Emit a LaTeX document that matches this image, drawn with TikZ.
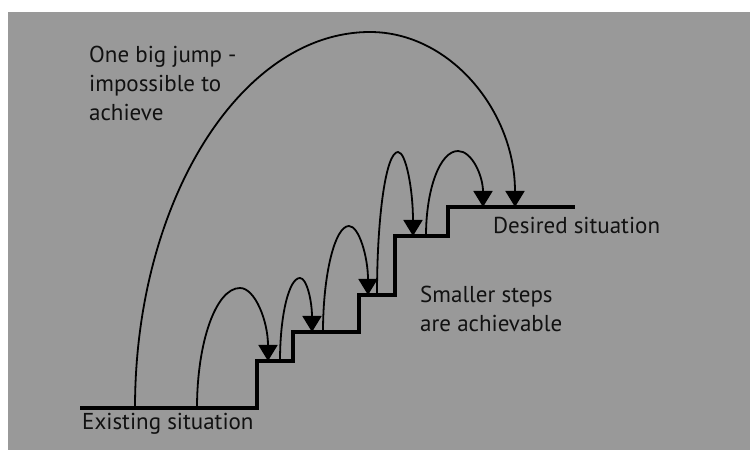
\documentclass[tikz,border=0pt]{standalone}
\usepackage{fontspec}
\setmainfont{PT Sans}
\usetikzlibrary{arrows.meta}
\definecolor{bggray}{RGB}{153,153,153}
\definecolor{ink}{RGB}{17,17,17}

\begin{document}
\begin{tikzpicture}[x=1pt,y=1pt,>={Triangle[width=19pt,length=16pt]},
		jump/.style={->,line width=1.8pt},
		stair/.style={line width=4pt,line join=miter},
		lbl/.style={inner sep=0pt,text=ink,align=left,
			font=\fontsize{23}{29}\selectfont}]
	\useasboundingbox (0,0) rectangle (750,450);
	\fill[bggray] (8,0) rectangle (750,438);

	% the staircase
	\draw[stair] (80,42) -| (257,89) -| (293,118) -| (359,155)
		-| (395,214) -| (448,243) -- (575,243);

	% where the jumps start, peak and land
	\coordinate (big0) at (135,42);   \coordinate (bigtop) at (370,418);
	\coordinate (big1) at (515,243);
	\coordinate (a0) at (197,42);  \coordinate (atop) at (240,162);
	\coordinate (a1) at (268,89);
	\coordinate (b0) at (280,89);  \coordinate (btop) at (300,172);
	\coordinate (b1) at (312,118);
	\coordinate (c0) at (323,118); \coordinate (ctop) at (349,224);
	\coordinate (c1) at (368,155);
	\coordinate (d0) at (377,155); \coordinate (dtop) at (398,298);
	\coordinate (d1) at (413,214);
	\coordinate (e0) at (426,214); \coordinate (etop) at (458,299);
	\coordinate (e1) at (483,243);

	\draw[jump] (big0) .. controls +(0,207) and +(-129,0) .. (bigtop)
		.. controls +(80,0) and +(0,96) .. (big1);
	\draw[jump] (a0) .. controls +(0,66) and +(-24,0) .. (atop)
		.. controls +(15,0) and +(0,40) .. (a1);
	\draw[jump] (b0) .. controls +(0,46) and +(-11,0) .. (btop)
		.. controls +(7,0) and +(0,30) .. (b1);
	\draw[jump] (c0) .. controls +(0,58) and +(-14,0) .. (ctop)
		.. controls +(10,0) and +(0,38) .. (c1);
	\draw[jump] (d0) .. controls +(0,79) and +(-12,0) .. (dtop)
		.. controls +(8,0) and +(0,46) .. (d1);
	\draw[jump] (e0) .. controls +(0,47) and +(-18,0) .. (etop)
		.. controls +(14,0) and +(0,31) .. (e1);

	\node[lbl,anchor=north west] (bigtxt) at (89,404)
		{One big jump -\\impossible to\\achieve};
	\node[lbl,anchor=north west] (smalltxt) at (420,164)
		{Smaller steps\\are achievable};
	\node[lbl,anchor=base west] (existing) at (82,20) {Existing situation};
	\node[lbl,anchor=base west] (desired) at (493,216) {Desired situation};
\end{tikzpicture}
\end{document}
